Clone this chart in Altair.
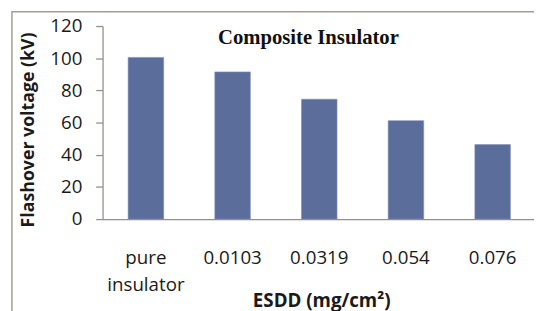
import altair as alt
import pandas as pd

categories = ["pure insulator", "0.0103", "0.0319", "0.054", "0.076"]
voltages = [100.5, 91.5, 74.5, 61.2, 46.3]
y_ticks = [0, 20, 40, 60, 80, 100, 120]
chart_title = "Composite Insulator"
x_title = "ESDD (mg/cm²)"
y_title = "Flashover voltage (kV)"

df = pd.DataFrame({"esdd": categories, "kv": voltages})

LABEL_FONT = "Open Sans"
AXIS_COLOR = "#958f8b"

bars = alt.Chart(df).mark_bar(color="#5b6e9b", stroke="#7f8fb5", strokeWidth=0.6).encode(
    x=alt.X(
        "esdd:N",
        sort=categories,
        scale=alt.Scale(range=[0, 440], paddingInner=0.59, paddingOuter=0.295),
        axis=alt.Axis(
            title=x_title,
            labelAngle=0,
            ticks=False,
            tickSize=0,
            labelPadding=30,
            labelBaseline="top",
            labelFont=LABEL_FONT,
            labelFontSize=19,
            labelColor="#1a1a1a",
            labelLineHeight=27,
            labelExpr="datum.value == 'pure insulator' ? ['pure', 'insulator'] : datum.value",
            domainColor=AXIS_COLOR,
            domainWidth=1.3,
            titleFont=LABEL_FONT,
            titleFontSize=19,
            titleFontWeight="bold",
            titleColor="#1a1a1a",
            titleX=222,
            titleY=89,
            titleBaseline="alphabetic",
            titleAlign="center",
        ),
    ),
    y=alt.Y(
        "kv:Q",
        scale=alt.Scale(domain=[0, 120], nice=False, zero=True),
        axis=alt.Axis(
            title=y_title,
            values=y_ticks,
            grid=False,
            tickSize=7,
            tickColor=AXIS_COLOR,
            tickWidth=1.3,
            domainColor=AXIS_COLOR,
            domainWidth=1.3,
            labelPadding=14,
            labelFont=LABEL_FONT,
            labelFontSize=19,
            labelColor="#1a1a1a",
            titleFont=LABEL_FONT,
            titleFontSize=18,
            titleFontWeight="bold",
            titleColor="#1a1a1a",
            titleAngle=270,
            titleX=-75,
            titleY=105,
            titleBaseline="middle",
            titleAlign="center",
        ),
    ),
)

title_text = alt.Chart(pd.DataFrame({"t": [chart_title]})).mark_text(
    font="Liberation Serif",
    fontSize=21,
    fontWeight="bold",
    color="#111111",
    baseline="alphabetic",
    align="center",
).encode(text="t:N", x=alt.value(209), y=alt.value(18.5))

frame = alt.Chart(pd.DataFrame({"f": [0]})).mark_rect(
    fill=None, stroke="#a39d99", strokeWidth=1.5
).encode(
    x=alt.value(-92), x2=alt.value(700), y=alt.value(-14.5), y2=alt.value(500)
)

chart = alt.layer(frame, bars, title_text).properties(
    width=438,
    height=196,
    padding={"left": 96, "top": 16, "right": 0, "bottom": 91},
    autosize=alt.AutoSizeParams(type="none"),
    background="white",
).configure_view(stroke=None)

chart.save("out.html", embed_options={"renderer": "svg", "actions": False})
